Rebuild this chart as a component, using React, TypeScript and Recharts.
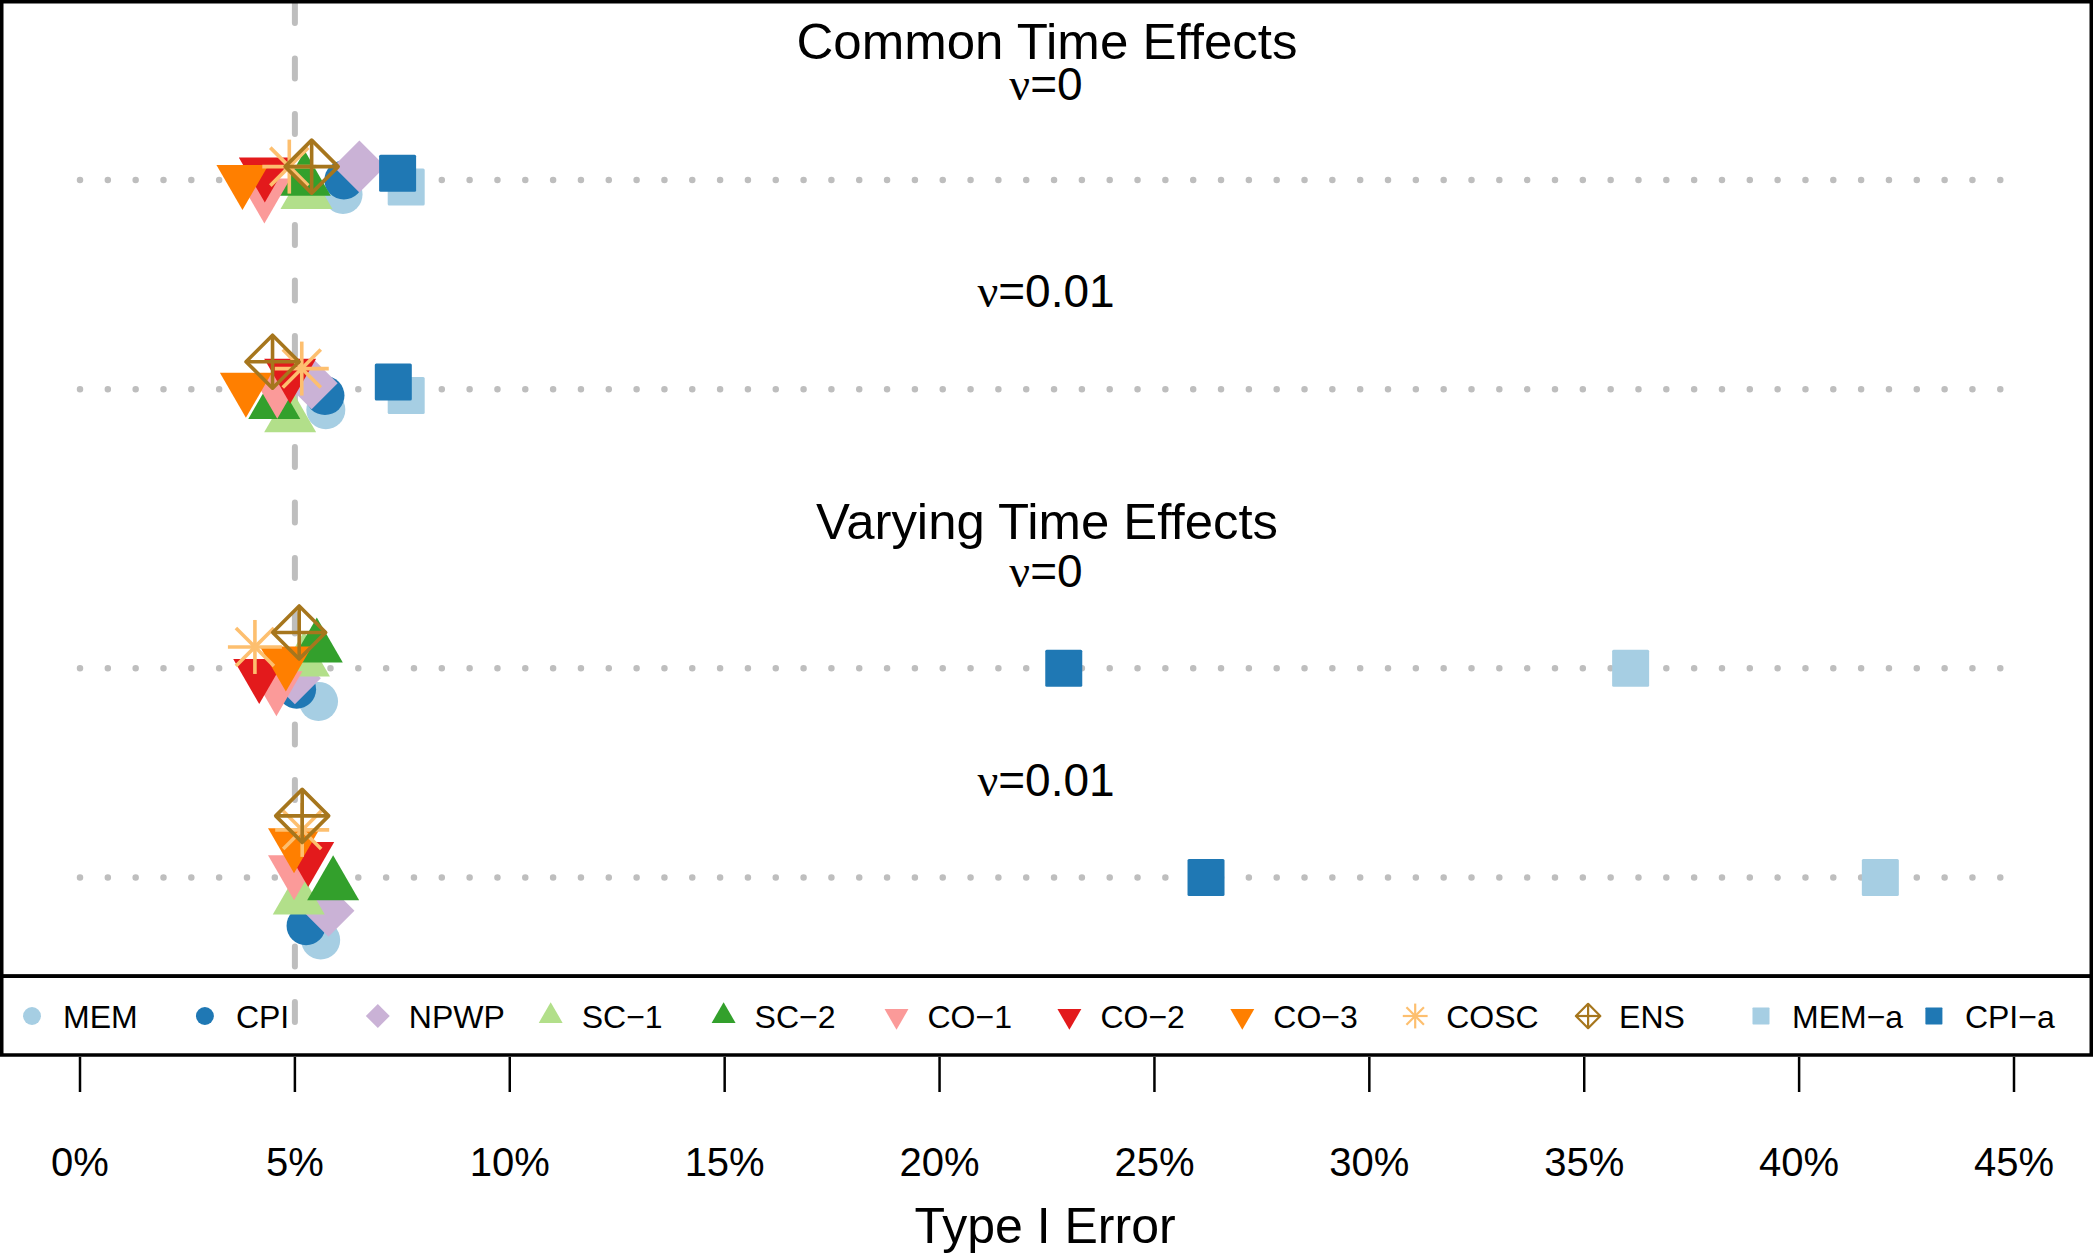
import React from 'react';
import { ScatterChart, Scatter, XAxis, YAxis, ReferenceLine } from 'recharts';

// ---------- data ----------
const panelTitles = ['Common Time Effects', 'Varying Time Effects'];
const rowLabels = ['ν=0', 'ν=0.01', 'ν=0', 'ν=0.01'];
// vertical position of each scenario row (top to bottom)
const rowPositions = [1, 2, 3.333, 4.333];
const xTicks = [0, 5, 10, 15, 20, 25, 30, 35, 40, 45];
const nominalLevel = 5;

const methods = ['MEM', 'CPI', 'NPWP', 'SC-1', 'SC-2', 'CO-1', 'CO-2', 'CO-3', 'COSC', 'ENS', 'MEM-a', 'CPI-a'];

// Type I error (%) per row
const memValues = [6.12, 5.72, 5.55, 5.6];
const cpiValues = [6.14, 5.7, 5.04, 5.26];
const npwpValues = [6.5, 5.39, 5.0, 5.78];
const sc1Values = [5.27, 4.89, 5.21, 5.09];
const sc2Values = [5.23, 4.52, 5.51, 5.89];
const co1Values = [4.29, 4.59, 4.57, 4.98];
const co2Values = [4.3, 4.89, 4.17, 5.31];
const co3Values = [3.78, 3.86, 4.79, 4.98];
const coscValues = [4.87, 5.16, 4.07, 5.17];
const ensValues = [5.39, 4.48, 5.1, 5.17];
const memAValues = [7.59, 7.59, 36.08, 41.89];
const cpiAValues = [7.39, 7.29, 22.89, 26.2];

// vertical jitter (row units) per row
const memJitter = [0.069, 0.098, 0.158, 0.298];
const cpiJitter = [0, 0.03, 0.1, 0.23];
const npwpJitter = [-0.064, -0.029, 0.048, 0.158];
const sc1Jitter = [0.067, 0.134, -0.033, 0.105];
const sc2Jitter = [0.003, 0.07, -0.1, 0.037];
const co1Jitter = [0.064, -0.003, 0.086, -0.035];
const co2Jitter = [-0.036, -0.074, 0.027, -0.099];
const co3Jitter = [0, -0.007, -0.033, -0.164];
const coscJitter = [-0.064, -0.099, -0.102, -0.228];
const ensJitter = [-0.064, -0.132, -0.171, -0.295];
const memAJitter = [0.033, 0.03, 0, 0];
const cpiAJitter = [-0.032, -0.035, 0, 0];

const valueSets = [memValues, cpiValues, npwpValues, sc1Values, sc2Values, co1Values, co2Values, co3Values, coscValues, ensValues, memAValues, cpiAValues];
const jitterSets = [memJitter, cpiJitter, npwpJitter, sc1Jitter, sc2Jitter, co1Jitter, co2Jitter, co3Jitter, coscJitter, ensJitter, memAJitter, cpiAJitter];

const colors = ['#A6CEE3', '#1F78B4', '#CAB2D6', '#B2DF8A', '#33A02C', '#FB9A99', '#E31A1C', '#FF7F00', '#FDBF6F', '#A6761D', '#A6CEE3', '#1F78B4'];
const kinds = ['circle', 'circle', 'diamond', 'up', 'up', 'down', 'down', 'down', 'asterisk', 'ens', 'square', 'square'];

const series = methods.map((name, k) => ({
  name,
  color: colors[k],
  kind: kinds[k],
  data: valueSets[k].map((v, i) => ({ x: v, y: rowPositions[i] + jitterSets[k][i] })),
}));

// ---------- marker drawing ----------
function Marker({ kind, color, cx, cy, s = 1, sw = 3.6 }: any) {
  if (cx == null || cy == null) return null;
  switch (kind) {
    case 'circle':
      return <circle cx={cx} cy={cy} r={19.5 * s} fill={color} />;
    case 'square': {
      const h = 18.5 * s;
      return <rect x={cx - h} y={cy - h} width={2 * h} height={2 * h} rx={1.5 * s} fill={color} />;
    }
    case 'diamond': {
      const d = 26 * s;
      return <polygon points={`${cx},${cy - d} ${cx + d},${cy} ${cx},${cy + d} ${cx - d},${cy}`} fill={color} />;
    }
    case 'up': {
      const w = 26 * s;
      const h = 45 * s;
      return <polygon points={`${cx},${cy - (2 * h) / 3} ${cx + w},${cy + h / 3} ${cx - w},${cy + h / 3}`} fill={color} />;
    }
    case 'down': {
      const w = 26 * s;
      const h = 45 * s;
      return <polygon points={`${cx - w},${cy - h / 3} ${cx + w},${cy - h / 3} ${cx},${cy + (2 * h) / 3}`} fill={color} />;
    }
    case 'asterisk': {
      const a = 27 * s;
      const b = 19 * s;
      return (
        <g stroke={color} strokeWidth={sw} fill="none">
          <line x1={cx - a} y1={cy} x2={cx + a} y2={cy} />
          <line x1={cx} y1={cy - a} x2={cx} y2={cy + a} />
          <line x1={cx - b} y1={cy - b} x2={cx + b} y2={cy + b} />
          <line x1={cx - b} y1={cy + b} x2={cx + b} y2={cy - b} />
        </g>
      );
    }
    case 'ens': {
      const d = 26.5 * s;
      return (
        <g stroke={color} strokeWidth={sw} fill="none" strokeLinejoin="round">
          <polygon points={`${cx},${cy - d} ${cx + d},${cy} ${cx},${cy + d} ${cx - d},${cy}`} />
          <line x1={cx - d} y1={cy} x2={cx + d} y2={cy} />
          <line x1={cx} y1={cy - d} x2={cx} y2={cy + d} />
        </g>
      );
    }
    default:
      return null;
  }
}

const FONT = '"Liberation Sans", Arial, Helvetica, sans-serif';
const W = 2094;
const H = 1255;

function Overlay() {
  const legendY = 1016;
  return (
    <svg width={W} height={H} style={{ position: 'absolute', left: 0, top: 0, pointerEvents: 'none' }}>
      {/* frames */}
      <rect x={1.75} y={1.75} width={2089.5} height={974.5} fill="none" stroke="#000" strokeWidth={3.5} />
      <rect x={1.75} y={976} width={2089.5} height={79} fill="none" stroke="#000" strokeWidth={3.5} />
      {/* titles */}
      <text x={1047} y={59} fontFamily={FONT} fontSize={50} textAnchor="middle" textLength={501} lengthAdjust="spacingAndGlyphs">
        {panelTitles[0]}
      </text>
      <text x={1047} y={539} fontFamily={FONT} fontSize={50} textAnchor="middle" textLength={462} lengthAdjust="spacingAndGlyphs">
        {panelTitles[1]}
      </text>
      {[100, 307, 587, 796].map((y, i) => (
        <text key={i} x={1046} y={y} fontFamily={FONT} fontSize={46} textAnchor="middle">
          <tspan fontFamily='"Liberation Serif", serif'>{rowLabels[i].slice(0, 1)}</tspan>
          {rowLabels[i].slice(1)}
        </text>
      ))}
      {/* legend */}
      {series.map((sr, k) => {
        const mx = 32 + 172.9 * k;
        return (
          <g key={sr.name}>
            <Marker kind={sr.kind} color={sr.color} cx={mx} cy={legendY} s={0.46} sw={2.2} />
            <text x={mx + 31} y={1028.3} fontFamily={FONT} fontSize={32}>
              {sr.name.replace('-', '\u2212')}
            </text>
          </g>
        );
      })}
      {/* axis title */}
      <text x={1045} y={1243} fontFamily={FONT} fontSize={50} textAnchor="middle">
        Type I Error
      </text>
    </svg>
  );
}

export default function App() {
  return (
    <div style={{ position: 'absolute', left: 0, top: 0, width: W, height: H, background: '#fff' }}>
      <ScatterChart width={W} height={H} margin={{ top: 0, right: 80, bottom: 0, left: 80 }}>
        <XAxis
          type="number"
          dataKey="x"
          domain={[0, 45]}
          allowDataOverflow
          ticks={xTicks}
          tickFormatter={(v: number) => `${v}%`}
          axisLine={false}
          tickSize={35}
          tickMargin={56}
          height={198}
          tickLine={{ stroke: '#000', strokeWidth: 2.5 }}
          tick={{ fill: '#000', fontSize: 40, fontFamily: FONT }}
          interval={0}
        />
        <YAxis type="number" dataKey="y" domain={[0.14, 5.19]} allowDataOverflow reversed hide width={0} />
        {rowPositions.map((r, i) => (
          <ReferenceLine
            key={`row-${i}`}
            y={r}
            stroke="#BEBEBE"
            strokeWidth={6.5}
            strokeDasharray="0 27.83"
            strokeLinecap="round"
          />
        ))}
        <ReferenceLine
          x={nominalLevel}
          stroke="#BEBEBE"
          strokeWidth={6}
          strokeDasharray="20 35.5"
          strokeDashoffset={20.5}
          strokeLinecap="round"
        />
        {series.map((sr) => (
          <Scatter
            key={sr.name}
            name={sr.name}
            data={sr.data}
            isAnimationActive={false}
            shape={(p: any) => <Marker kind={sr.kind} color={sr.color} cx={p.cx} cy={p.cy} />}
          />
        ))}
      </ScatterChart>
      <Overlay />
    </div>
  );
}
